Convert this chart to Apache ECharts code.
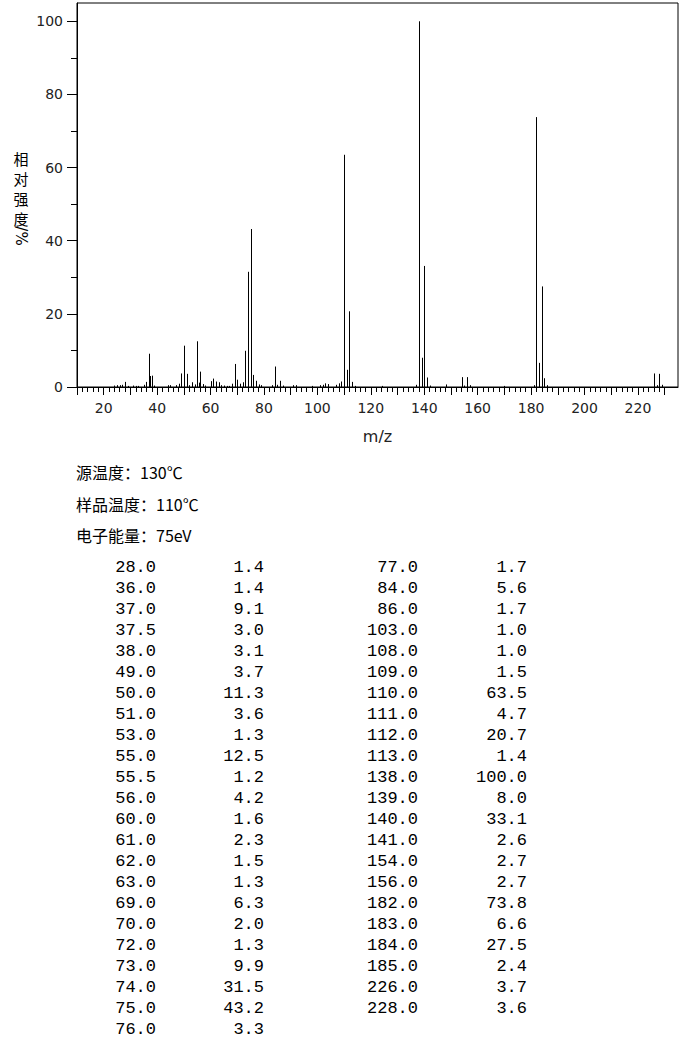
<!DOCTYPE html>
<html>
<head>
<meta charset="utf-8">
<title>质谱图</title>
<script src="https://cdn.jsdelivr.net/npm/echarts@6/dist/echarts.min.js"></script>
<style>
  html, body { margin: 0; padding: 0; background: #fff; }
  #main { width: 680px; height: 1049px; }
</style>
</head>
<body>
<div id="main"></div>
<script>
// 表中列出的峰 (m/z, 相对强度 %)
var peakMz = [28.0, 36.0, 37.0, 37.5, 38.0, 49.0, 50.0, 51.0, 53.0, 55.0, 55.5, 56.0,
  60.0, 61.0, 62.0, 63.0, 69.0, 70.0, 72.0, 73.0, 74.0, 75.0, 76.0,
  77.0, 84.0, 86.0, 103.0, 108.0, 109.0, 110.0, 111.0, 112.0, 113.0, 138.0, 139.0,
  140.0, 141.0, 154.0, 156.0, 182.0, 183.0, 184.0, 185.0, 226.0, 228.0];
var peakInt = [1.4, 1.4, 9.1, 3.0, 3.1, 3.7, 11.3, 3.6, 1.3, 12.5, 1.2, 4.2,
  1.6, 2.3, 1.5, 1.3, 6.3, 2.0, 1.3, 9.9, 31.5, 43.2, 3.3,
  1.7, 5.6, 1.7, 1.0, 1.0, 1.5, 63.5, 4.7, 20.7, 1.4, 100.0, 8.0,
  33.1, 2.6, 2.7, 2.7, 73.8, 6.6, 27.5, 2.4, 3.7, 3.6];
var leftRows = 23;

// 图中可见、表中未列的小峰 (<1 %)
var minorMz = [24, 25, 26, 27, 29, 31, 32, 33, 35, 39, 44, 45, 47, 48, 52, 54, 57, 58,
  64, 65, 66, 67, 68, 71, 78, 79, 83, 85, 87, 91, 92, 98, 101, 102, 104, 107, 114,
  124, 137, 142, 148, 155, 157, 170, 181, 186, 227, 229];
var minorInt = [0.4, 0.5, 0.5, 0.6, 0.3, 0.4, 0.3, 0.3, 0.6, 0.4, 0.5, 0.5, 0.5, 0.9, 0.5, 0.7, 0.8, 0.4,
  0.5, 0.4, 0.3, 0.3, 0.9, 0.9, 0.7, 0.5, 0.5, 0.6, 0.4, 0.5, 0.5, 0.3, 0.5, 0.6, 0.8, 0.6, 0.3,
  0.3, 0.6, 0.4, 0.7, 0.4, 0.5, 0.3, 0.5, 0.5, 0.5, 0.6];

var xLabels = [20, 40, 60, 80, 100, 120, 140, 160, 180, 200, 220];
var yLabels = [0, 20, 40, 60, 80, 100];
var yMinorTicks = [10, 30, 50, 70, 90];
var yNameChars = ['相', '对', '强', '度'];
var infoLines = ['源温度：130℃', '样品温度：110℃', '电子能量：75eV'];

var xMajorTicks = [], xMinorTicks = [];
for (var t = 10; t <= 230; t += 2) {
  if (t % 10 === 0) xMajorTicks.push(t);
  else xMinorTicks.push(t);
}

var sticks = [];
for (var i = 0; i < peakMz.length; i++) sticks.push([peakMz[i], peakInt[i]]);
for (var j = 0; j < minorMz.length; j++) sticks.push([minorMz[j], minorInt[j]]);

function stickItem(params, api) {
  var base = api.coord([api.value(0), 0]);
  var top = api.coord([api.value(0), api.value(1)]);
  var x = Math.round(base[0]) + 0.5;
  return {
    type: 'line',
    shape: { x1: x, y1: base[1], x2: x, y2: top[1] },
    style: { stroke: '#000', lineWidth: 1 }
  };
}

var labelFont = { fontSize: 14, fontFamily: 'DejaVu Sans', color: '#222' };
var monoFont = '17px "Liberation Mono"';

// 纵轴标题竖排，每字一行
var graphics = [];
for (var c = 0; c < yNameChars.length; c++) {
  graphics.push({
    type: 'text', x: 21, y: 158 + c * 20,
    style: { text: yNameChars[c], fontSize: 15, fontFamily: 'Noto Sans CJK SC',
      align: 'center', verticalAlign: 'middle', fill: '#000' }
  });
}
graphics.push({
  type: 'text', x: 21, y: 236, rotation: -Math.PI / 2,
  style: { text: '/%', fontSize: 15, fontFamily: 'DejaVu Sans',
    align: 'center', verticalAlign: 'middle', fill: '#000' }
});

var infoY = [472, 504, 535];
for (var k = 0; k < infoLines.length; k++) {
  graphics.push({
    type: 'text', x: 76, y: infoY[k],
    style: { text: infoLines[k], fontSize: 16, fontFamily: 'Noto Sans CJK SC',
      align: 'left', verticalAlign: 'middle', fill: '#000' }
  });
}
// 峰表：左列 23 行，右列其余
for (var r = 0; r < peakMz.length; r++) {
  var col = r < leftRows ? 0 : 1;
  var row = col === 0 ? r : r - leftRows;
  var y = 567 + row * 21;
  var xm = col === 0 ? 156 : 418;
  var xi = col === 0 ? 264 : 527;
  graphics.push({
    type: 'text', x: xm, y: y,
    style: { text: peakMz[r].toFixed(1), font: monoFont, align: 'right', verticalAlign: 'middle', fill: '#000' }
  });
  graphics.push({
    type: 'text', x: xi, y: y,
    style: { text: peakInt[r].toFixed(1), font: monoFont, align: 'right', verticalAlign: 'middle', fill: '#000' }
  });
}

var chart = echarts.init(document.getElementById('main'), null, { renderer: 'svg' });
chart.setOption({
  animation: false,
  backgroundColor: '#fff',
  grid: {
    left: 77, right: 2, top: 3, bottom: 662,
    show: true, borderColor: '#000', borderWidth: 1,
    containLabel: false, outerBoundsMode: 'none'
  },
  xAxis: [
    {
      type: 'value', min: 10, max: 235, position: 'bottom',
      name: 'm/z', nameLocation: 'middle', nameGap: 41,
      nameTextStyle: { fontSize: 16, fontFamily: 'DejaVu Sans', color: '#222' },
      axisLine: { show: true, onZero: false, lineStyle: { color: '#000', width: 1 } },
      axisTick: { show: true, customValues: xMajorTicks, length: 8, lineStyle: { color: '#000' } },
      axisLabel: Object.assign({ customValues: xLabels, margin: 14 }, labelFont),
      splitLine: { show: false }
    },
    {
      type: 'value', min: 10, max: 235, position: 'bottom',
      axisLine: { show: false },
      axisTick: { show: true, customValues: xMinorTicks, length: 5, lineStyle: { color: '#000' } },
      axisLabel: { show: false },
      splitLine: { show: false }
    }
  ],
  yAxis: [
    {
      type: 'value', min: 0, max: 105, position: 'left',
      axisLine: { show: true, onZero: false, lineStyle: { color: '#000', width: 1 } },
      axisTick: { show: true, customValues: yLabels, length: 10, lineStyle: { color: '#000' } },
      axisLabel: Object.assign({ customValues: yLabels, margin: 14 }, labelFont),
      splitLine: { show: false }
    },
    {
      type: 'value', min: 0, max: 105, position: 'left',
      axisLine: { show: false },
      axisTick: { show: true, customValues: yMinorTicks, length: 6, lineStyle: { color: '#000' } },
      axisLabel: { show: false },
      splitLine: { show: false }
    }
  ],
  series: [{
    type: 'custom',
    xAxisIndex: 0, yAxisIndex: 0,
    renderItem: stickItem,
    data: sticks,
    clip: true
  }],
  graphic: graphics
});
</script>
</body>
</html>
